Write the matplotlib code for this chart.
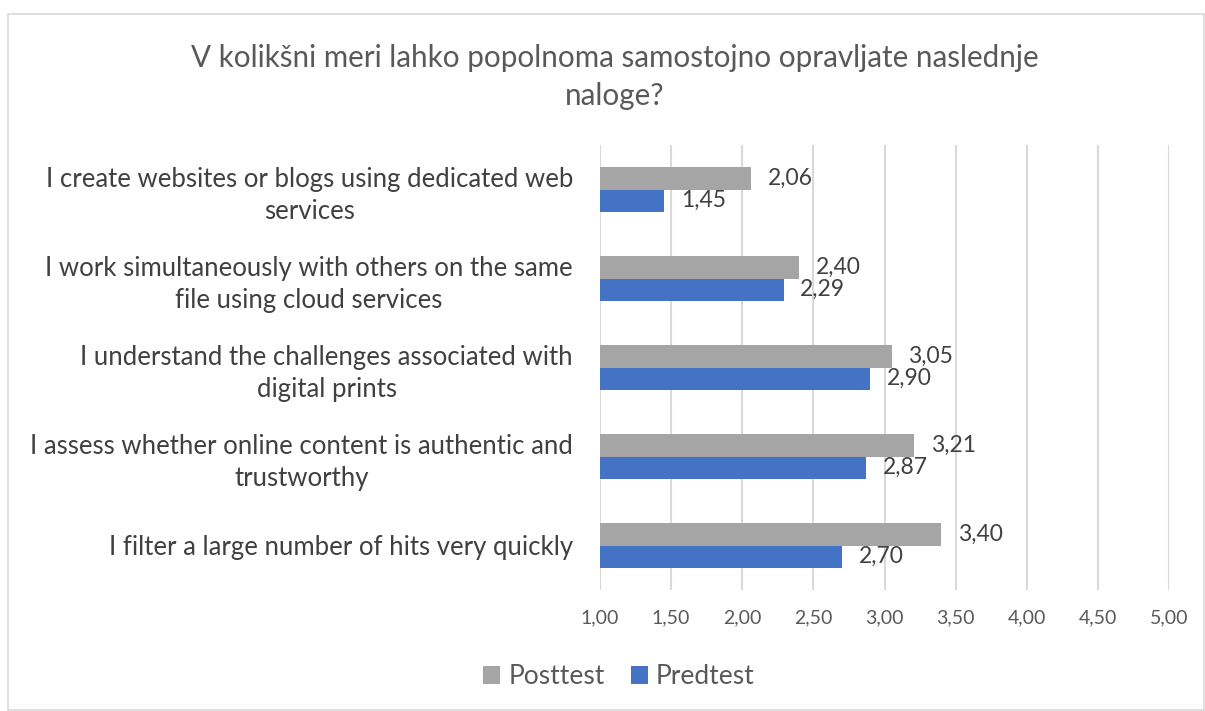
import matplotlib.pyplot as plt
import numpy as np
from matplotlib.patches import Rectangle

categories = [
    "I create websites or blogs using dedicated web\nservices",
    "I work simultaneously with others on the same\nfile using cloud services",
    "I understand the challenges associated with\ndigital prints",
    "I assess whether online content is authentic and\ntrustworthy",
    "I filter a large number of hits very quickly",
]
posttest = [2.06, 2.40, 3.05, 3.21, 3.40]
predtest = [1.45, 2.29, 2.90, 2.87, 2.70]
xticks = [1.0, 1.5, 2.0, 2.5, 3.0, 3.5, 4.0, 4.5, 5.0]

gray = "#A5A5A5"
blue = "#4472C4"
txt = "#595959"

plt.rcParams['font.family'] = ['Lato', 'DejaVu Sans']

fig = plt.figure(figsize=(12.05, 7.11), dpi=100)
ax = fig.add_axes([600 / 1205, 1 - 590 / 711, 569 / 1205, 445 / 711])

y = np.arange(len(categories))
h = 0.25
ax.barh(y - h / 2, [v - 1 for v in posttest], left=1, height=h, color=gray, label="Posttest", zorder=3)
ax.barh(y + h / 2, [v - 1 for v in predtest], left=1, height=h, color=blue, label="Predtest", zorder=3)

for yi, v in zip(y, posttest):
    ax.annotate(f"{v:.2f}".replace(".", ","), (v, yi - h / 2), xytext=(12, 0), textcoords="offset points",
                va="center", ha="left", fontsize=16.5, color="#404040")
for yi, v in zip(y, predtest):
    ax.annotate(f"{v:.2f}".replace(".", ","), (v, yi + h / 2), xytext=(12, 0), textcoords="offset points",
                va="center", ha="left", fontsize=16.5, color="#404040")

ax.set_xlim(1, 5)
ax.set_ylim(len(categories) - 0.5, -0.5)
ax.set_xticks(xticks)
ax.set_xticklabels([f"{t:.2f}".replace(".", ",") for t in xticks], fontsize=14, color=txt)
ax.set_yticks(y)
ax.set_yticklabels(categories, fontsize=18.5, color="#404040", multialignment="center", linespacing=1.35)
ax.tick_params(axis="y", length=0, pad=19.5)
ax.tick_params(axis="x", length=0, pad=14)
ax.grid(axis="x", color="#D9D9D9", linewidth=1.5, zorder=0)
for s in ax.spines.values():
    s.set_visible(False)

fig.text(615 / 1205, 1 - 77 / 711, "V kolikšni meri lahko popolnoma samostojno opravljate naslednje\nnaloge?",
         ha="center", va="center", fontsize=21.3, color=txt, linespacing=1.4)

fig.legend(loc="center", bbox_to_anchor=(619 / 1205, 1 - 677 / 711), ncol=2, frameon=False,
           fontsize=19, handlelength=0.65, handleheight=0.65, handletextpad=0.3, columnspacing=1.0,
           labelcolor=txt)

fig.patches.append(Rectangle((8 / 1205, 0.001), 1196 / 1205, 1 - 14 / 711 - 0.001, transform=fig.transFigure,
                             fill=False, edgecolor="#D9D9D9", linewidth=1.2))

fig.savefig("out.png", dpi=100)
